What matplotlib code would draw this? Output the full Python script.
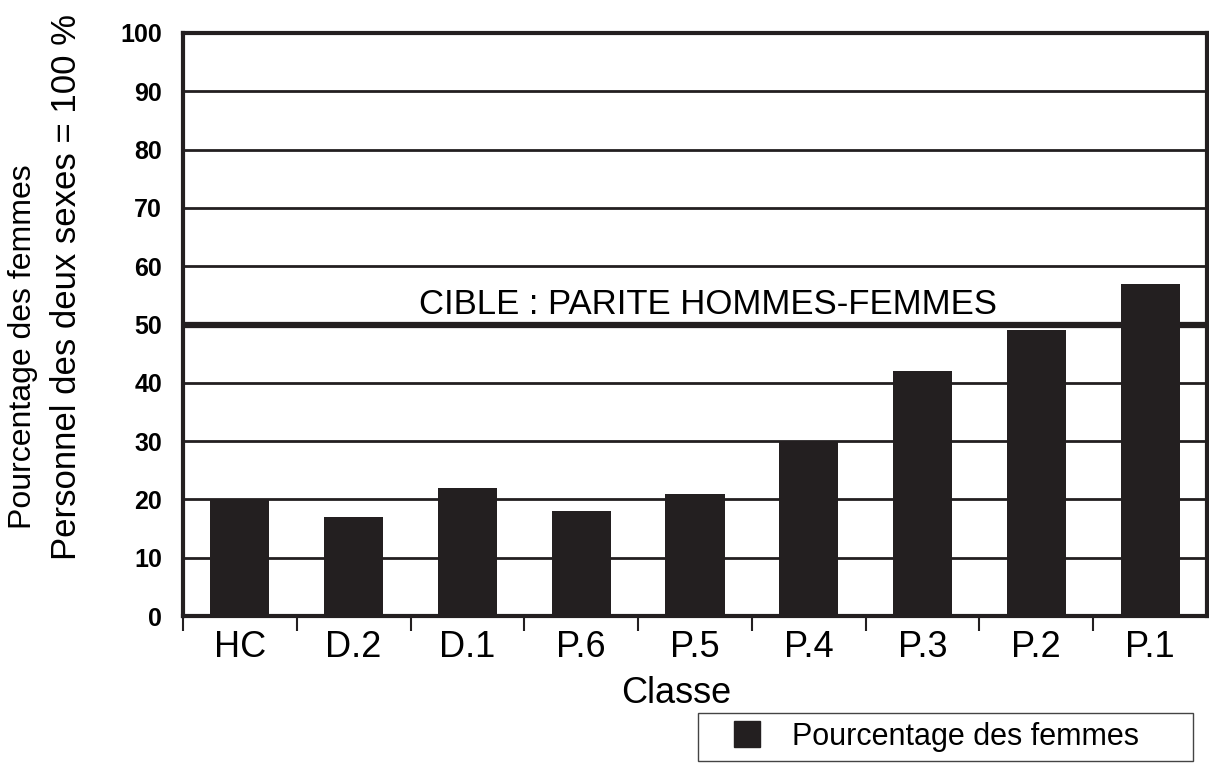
"""
Pourcentage des femmes par classe, cible de parite.
"""

import matplotlib.pyplot as plt
from matplotlib.lines import Line2D

CLASSES = ["HC", "D.2", "D.1", "P.6", "P.5", "P.4", "P.3", "P.2", "P.1"]
FEMMES = [20, 17, 22, 18, 21, 30, 42, 49, 57]
CIBLE = 50
Y_TICKS = list(range(0, 101, 10))

BAR_COLOR = "#231f20"
W, H = 1209, 763

plt.rcParams["font.family"] = ["Liberation Sans", "DejaVu Sans"]

fig = plt.figure(figsize=(W / 100, H / 100), dpi=100)
ax = fig.add_axes([183 / W, 1 - 616 / H, 1024 / W, 583 / H])

# grid first, bars on top
for v in Y_TICKS[1:-1]:
    if v == CIBLE:
        continue
    ax.axhline(v, color=BAR_COLOR, lw=2, zorder=1)
ax.axhline(CIBLE, color=BAR_COLOR, lw=4.5, zorder=3)

x = list(range(len(CLASSES)))
ax.bar(x, FEMMES, width=0.52, color=BAR_COLOR, zorder=2)

ax.text(4.11, 51.8, "CIBLE : PARITE HOMMES-FEMMES", ha="center",
        va="baseline", fontsize=25, color="black")

ax.set_xlim(-0.5, len(CLASSES) - 0.5)
ax.set_ylim(0, 100)
ax.set_yticks(Y_TICKS)
ax.set_yticklabels([str(v) for v in Y_TICKS], fontsize=18, fontweight="bold")
ax.tick_params(axis="y", length=0, pad=15)

# category labels in the middle, ticks on the boundaries
ax.set_xticks(x)
ax.set_xticklabels(CLASSES, fontsize=26)
ax.tick_params(axis="x", which="major", length=0, pad=10)
ax.set_xticks([i - 0.5 for i in range(len(CLASSES))], minor=True)
ax.tick_params(axis="x", which="minor", length=11, width=1.5,
               color=BAR_COLOR, direction="out")

for side in ["left", "right", "top", "bottom"]:
    ax.spines[side].set_linewidth(3)
    ax.spines[side].set_color(BAR_COLOR)

ax.set_xlabel("Classe", fontsize=26)
ax.xaxis.set_label_coords((676 - 183) / 1024, -(676 - 616) / 583)

# two-line y label, the lines are not centred on each other
fig.text(23 / W, 1 - 347 / H, "Pourcentage des femmes", rotation=90,
         ha="center", va="center", fontsize=23)
fig.text(67 / W, 1 - 287 / H, "Personnel des deux sexes = 100 %",
         rotation=90, ha="center", va="center", fontsize=25)

handle = Line2D([], [], marker="s", markersize=18.7, linestyle="None",
                color=BAR_COLOR)
leg = fig.legend([handle], ["Pourcentage des femmes"], loc="lower left",
                 bbox_to_anchor=(698 / W, 2 / H, 495 / W, 49 / H),
                 mode="expand", fontsize=22, frameon=True, fancybox=False,
                 edgecolor="#444444", handlelength=2.6, handletextpad=0.16,
                 borderpad=0.3, borderaxespad=0, framealpha=1)
leg.get_frame().set_linewidth(1)

fig.savefig("out.png", dpi=100)
